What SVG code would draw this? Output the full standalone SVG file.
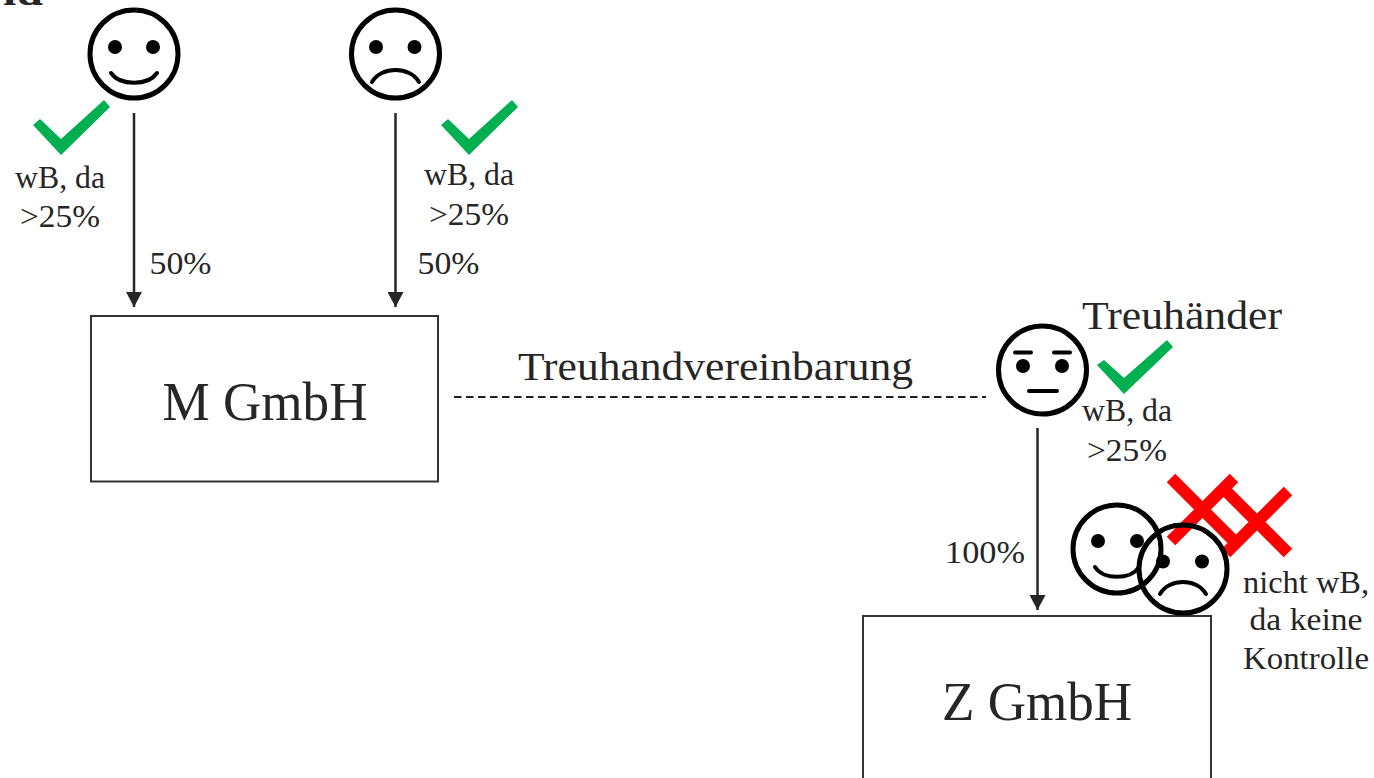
<svg xmlns="http://www.w3.org/2000/svg" width="1374" height="778" viewBox="0 0 1374 778">
<style>
text{font-family:"Liberation Serif",serif;fill:#262626;text-anchor:middle}
.s{font-size:32px}.t{font-size:40px}.b{font-size:54px}
.face{fill:none;stroke:#000;stroke-width:5}
.line{fill:none;stroke:#000;stroke-width:4;stroke-linecap:round}
.box{fill:#fff;stroke:#333;stroke-width:2}
.conn{stroke:#262626;stroke-width:2.500;fill:none;marker-end:url(#ah)}
.chk{fill:#00b050}
.x{stroke:#f00;stroke-width:12;fill:none}
</style>
<defs>
<marker id="ah" markerUnits="userSpaceOnUse" markerWidth="16" markerHeight="16" refX="15" refY="8" orient="auto"><path d="M0 0L15 8L0 16Z" fill="#262626"/></marker>
</defs>
<rect width="1374" height="778" fill="#fff"/>
<text x="23" y="5" font-size="40" font-weight="bold" textLength="40" lengthAdjust="spacingAndGlyphs" id="clip">ld</text>
<g id="connectors">
<path class="conn" d="M134 113V307"/>
<path class="conn" d="M395.500 113V307"/>
<path class="conn" d="M1037.500 428V610"/>
<path d="M454 397H986" fill="none" stroke="#1f1f1f" stroke-width="1.800" stroke-dasharray="7.500 4.500"/>
</g>
<g id="m-gmbh"><rect class="box" x="91" y="316" width="347" height="165.500"/><text class="b" x="265" y="420" textLength="205" lengthAdjust="spacingAndGlyphs">M GmbH</text></g>
<g id="z-gmbh"><rect class="box" x="863" y="616" width="348" height="170"/><text class="b" x="1037" y="720" textLength="190" lengthAdjust="spacingAndGlyphs">Z GmbH</text></g>
<g id="face-happy"><circle class="face" cx="134" cy="54" r="44"/><circle cx="115" cy="47" r="7"/><circle cx="153" cy="47" r="7"/><path class="line" d="M111 73C120 86 148 86 157 73"/></g>
<g id="face-sad"><circle class="face" cx="395.500" cy="54" r="44"/><circle cx="376" cy="47" r="7"/><circle cx="414.500" cy="47" r="7"/><path class="line" d="M372 82C381 66 410 66 419 82"/></g>
<g id="check-1"><path class="chk" d="M33 125L40 119L61 139L104 100L110 107L61 155Z"/><text class="s" x="60" y="188" textLength="90" lengthAdjust="spacingAndGlyphs">wB, da</text><text class="s" x="60" y="227" textLength="80" lengthAdjust="spacingAndGlyphs">&gt;25%</text></g>
<g id="check-2"><path class="chk" d="M441 125L448 119L469 139L512 100L518 107L469 155Z"/><text class="s" x="469" y="185" textLength="90" lengthAdjust="spacingAndGlyphs">wB, da</text><text class="s" x="469" y="225" textLength="80" lengthAdjust="spacingAndGlyphs">&gt;25%</text></g>
<text class="s" x="180.500" y="274" textLength="62" lengthAdjust="spacingAndGlyphs">50%</text>
<text class="s" x="448.500" y="274" textLength="62" lengthAdjust="spacingAndGlyphs">50%</text>
<text class="t" x="715.500" y="380" textLength="395" lengthAdjust="spacingAndGlyphs">Treuhandvereinbarung</text>
<g id="treuhaender"><text class="t" x="1182" y="329" textLength="200" lengthAdjust="spacingAndGlyphs">Treuhänder</text><circle class="face" cx="1042.500" cy="370" r="44"/><circle cx="1023" cy="366" r="7"/><circle cx="1062" cy="366" r="7"/><path class="line" d="M1015 352.500H1031M1054 352.500H1070M1029 391H1057"/></g>
<g id="check-3"><path class="chk" d="M1097 365L1104 360L1124 378L1167 340L1173 347L1124 394Z"/><text class="s" x="1127" y="421" textLength="90" lengthAdjust="spacingAndGlyphs">wB, da</text><text class="s" x="1127" y="461" textLength="80" lengthAdjust="spacingAndGlyphs">&gt;25%</text></g>
<text class="s" x="985" y="563" textLength="80" lengthAdjust="spacingAndGlyphs">100%</text>
<g id="cross"><path class="x" d="M1171 478L1234 541M1234 478L1171 541M1226 491L1288 553M1288 491L1226 553"/></g>
<g id="face-happy-2"><circle class="face" cx="1117" cy="549" r="44"/><circle cx="1098" cy="541" r="7"/><circle cx="1137" cy="541" r="7"/><path class="line" d="M1095 567C1103 580 1131 580 1139 567"/></g>
<g id="face-sad-2"><circle class="face" cx="1183" cy="569" r="44"/><circle cx="1163" cy="561.500" r="7"/><circle cx="1202" cy="561.500" r="7"/><path class="line" d="M1160 594C1169 578 1197 578 1206 594"/></g>
<text class="s" x="1306" y="593" textLength="126" lengthAdjust="spacingAndGlyphs">nicht wB,</text>
<text class="s" x="1306" y="630" textLength="113" lengthAdjust="spacingAndGlyphs">da keine</text>
<text class="s" x="1306" y="669" textLength="126" lengthAdjust="spacingAndGlyphs">Kontrolle</text>
</svg>
